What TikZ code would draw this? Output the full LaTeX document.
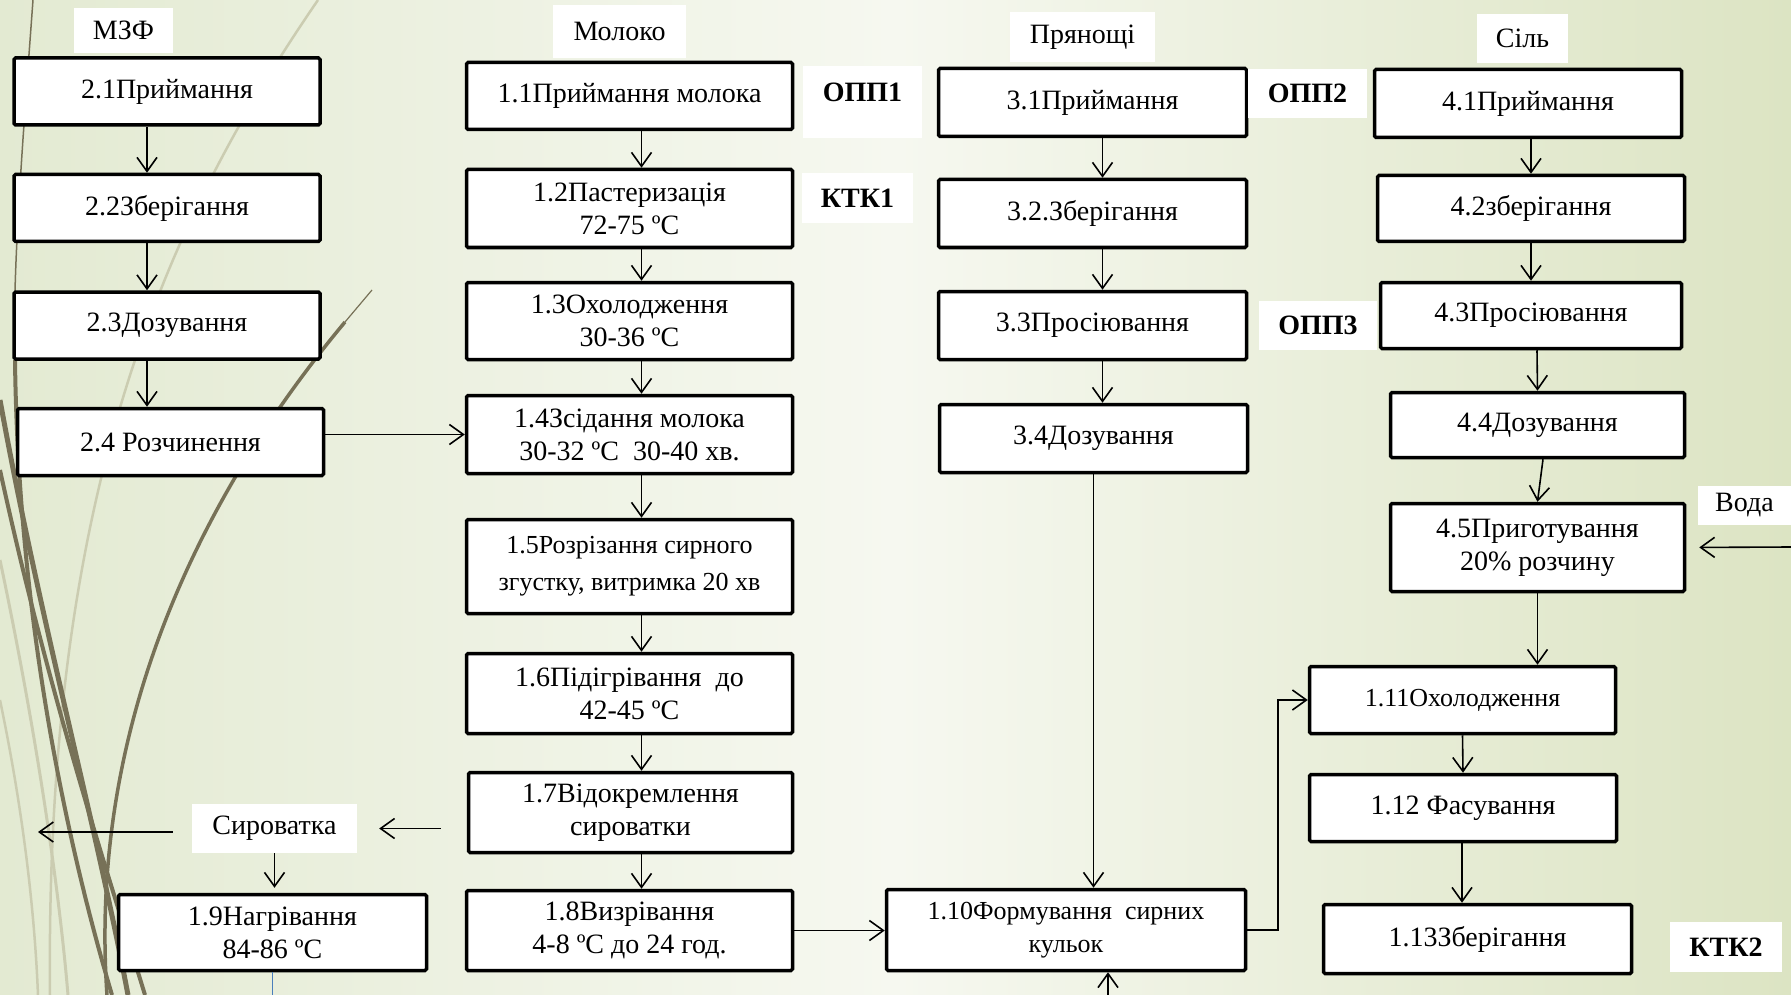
\documentclass[tikz,border=0pt]{standalone}
\usepackage{fontspec}
\setmainfont{Liberation Serif}
\usetikzlibrary{arrows.meta}

\definecolor{wispdark}{HTML}{777157}
\definecolor{wisplight}{HTML}{CBCCB1}
\definecolor{bgleft}{HTML}{E3EAD2}
\definecolor{bgmid}{HTML}{F6F8F0}
\definecolor{bgright}{HTML}{DCE4C3}
\definecolor{drainblue}{HTML}{4A7EBB}

\begin{document}
\begin{tikzpicture}[x=1pt,y=-1pt,
    stage/.style={draw,line width=3.5pt,rounded corners=1.5pt,fill=white,minimum width=306pt,minimum height=67pt,align=center,inner sep=2pt,font=\fontsize{28}{33}\selectfont},
    tag/.style={fill=white,inner sep=0pt,align=center,font=\fontsize{28}{33}\selectfont},
    point/.style={tag,font=\bfseries\fontsize{28}{33}\selectfont},
    flow/.style={-{Straight Barb[length=14pt,width=20pt]},line width=1.6pt}]

    \useasboundingbox (0,0) rectangle (1791,995);
    \shade[left color=bgleft,right color=bgright,middle color=bgmid] (0,0) rectangle (1791,995);

    \draw[wisplight,line width=2.5pt] (318,0) .. controls (160,230) and (45,500) .. (50,995);
    \draw[wisplight,line width=3pt] (0,560) .. controls (40,750) and (60,900) .. (68,995);
    \draw[wisplight,line width=2.5pt] (0,700) .. controls (25,820) and (35,920) .. (38,995);
    \draw[wispdark,line width=1.5pt] (33,0) .. controls (22,150) and (12,280) .. (15,360);
    \draw[wispdark,line width=4pt] (15,360) .. controls (18,600) and (60,820) .. (112,995);
    \draw[wispdark,line width=5pt] (0,400) .. controls (40,620) and (95,820) .. (128,995);
    \draw[wispdark,line width=4pt] (0,470) .. controls (50,700) and (110,880) .. (145,995);
    \draw[wispdark,line width=1.2pt] (372,290) -- (345,322);
    \draw[wispdark,line width=3.5pt] (345,322) .. controls (180,520) and (90,750) .. (107,995);

    \node[tag,minimum width=99pt,minimum height=45pt] (mzf) at (123.5,30.5) {МЗФ};
    \node[stage] (p21) at (167,91.5) {2.1Приймання};
    \node[stage] (p22) at (167,208) {2.2Зберігання};
    \node[stage] (p23) at (167,325.5) {2.3Дозування};
    \node[stage] (p24) at (170.5,442) {2.4 Розчинення};

    \node[tag,minimum width=133pt,minimum height=53pt] (milk) at (619.5,31.5) {Молоко};
    \node[stage,minimum width=326pt] (p11) at (629.5,96) {1.1Приймання молока};
    \node[stage,minimum width=326pt,minimum height=78pt] (p12) at (629.5,208.5) {1.2Пастеризація\\72-75 ºC};
    \node[stage,minimum width=326pt,minimum height=77pt] (p13) at (629.5,321) {1.3Охолодження\\30-36 ºC};
    \node[stage,minimum width=326pt,minimum height=78pt] (p14) at (629.5,434.5) {1.4Зсідання молока\\30-32 ºC\ \ 30-40 хв.};
    \node[stage,minimum width=326pt,minimum height=94pt,font=\fontsize{26}{37}\selectfont] (p15) at (629.5,566.5) {1.5Розрізання сирного\\згустку, витримка 20 хв};
    \node[stage,minimum width=326pt,minimum height=80pt] (p16) at (629.5,693.5) {1.6Підігрівання\ \ до\\42-45 ºC};
    \node[stage,minimum width=324pt,minimum height=80pt] (p17) at (630.5,812.5) {1.7Відокремлення\\сироватки};
    \node[stage,minimum width=326pt,minimum height=80pt] (p18) at (629.5,930.5) {1.8Визрівання\\4-8 ºC до 24 год.};

    \node[point,minimum width=119pt,minimum height=72pt,text depth=20pt] (opp1) at (862.5,102) {ОПП1};
    \node[point,minimum width=111pt,minimum height=50pt] (ktk1) at (857.5,198) {КТК1};

    \node[tag,minimum width=165pt,minimum height=49pt] (whey) at (274.5,828.5) {Сироватка};
    \node[stage,minimum width=308pt,minimum height=76pt] (p19) at (272.5,932.5) {1.9Нагрівання\\84-86 ºC};

    \node[tag,minimum width=145pt,minimum height=50pt] (spice) at (1082.5,37) {Прянощі};
    \node[stage,minimum width=308pt,minimum height=68pt] (p31) at (1092.5,102.5) {3.1Приймання};
    \node[stage,minimum width=308pt,minimum height=68pt] (p32) at (1092.5,213.5) {3.2.Зберігання};
    \node[stage,minimum width=308pt,minimum height=68pt] (p33) at (1092.5,325.5) {3.3Просіювання};
    \node[stage,minimum width=308pt,minimum height=68pt] (p34) at (1093.5,438.5) {3.4Дозування};
    \node[stage,minimum width=359pt,minimum height=81pt,font=\fontsize{26}{33}\selectfont] (p110) at (1066,930) {1.10Формування\ \ сирних\\кульок};

    \node[point,minimum width=119pt,minimum height=49pt] (opp2) at (1307.5,93.5) {ОПП2};
    \node[point,minimum width=118pt,minimum height=49pt] (opp3) at (1318,325.5) {ОПП3};

    \node[tag,minimum width=91pt,minimum height=49pt] (salt) at (1522.5,38.5) {Сіль};
    \node[stage,minimum width=307pt,minimum height=68pt] (p41) at (1528,103.5) {4.1Приймання};
    \node[stage,minimum width=307pt,minimum height=66pt] (p42) at (1531,208.5) {4.2зберігання};
    \node[stage,minimum width=301pt,minimum height=66pt] (p43) at (1531,315.5) {4.3Просіювання};
    \node[stage,minimum width=294pt,minimum height=65pt] (p44) at (1537.5,425) {4.4Дозування};
    \node[stage,minimum width=294pt,minimum height=88pt] (p45) at (1537.5,547.5) {4.5Приготування\\20\% розчину};
    \node[tag,minimum width=93pt,minimum height=39pt] (water) at (1744.5,505.5) {Вода};

    \node[stage,minimum width=306pt,minimum height=67pt,font=\fontsize{26}{33}\selectfont] (p111) at (1462.5,700) {1.11Охолодження};
    \node[stage,minimum width=307pt,minimum height=67pt] (p112) at (1463,808) {1.12 Фасування};
    \node[stage,minimum width=308pt,minimum height=69pt] (p113) at (1477.5,939) {1.13Зберігання};
    \node[point,minimum width=112pt,minimum height=50pt] (ktk2) at (1726,947) {КТК2};

    \draw[flow] ([xshift=-20pt]p21.south) -- ([xshift=-20pt]p22.north);
    \draw[flow] ([xshift=-20pt]p22.south) -- ([xshift=-20pt]p23.north);
    \draw[flow] ([xshift=-20pt]p23.south) -- ([xshift=-23.5pt]p24.north);
    \draw[flow] (p24.east |- p14.west) -- (p14.west);

    \draw[flow] ([xshift=12pt]p11.south) -- ([xshift=12pt]p12.north);
    \draw[flow] ([xshift=12pt]p12.south) -- ([xshift=12pt]p13.north);
    \draw[flow] ([xshift=12pt]p13.south) -- ([xshift=12pt]p14.north);
    \draw[flow] ([xshift=12pt]p14.south) -- ([xshift=12pt]p15.north);
    \draw[flow] ([xshift=12pt]p15.south) -- ([xshift=12pt]p16.north);
    \draw[flow] ([xshift=12pt]p16.south) -- ([xshift=11pt]p17.north);
    \draw[flow] ([xshift=11pt]p17.south) -- ([xshift=12pt]p18.north);

    \coordinate (wheyout) at (38,832);
    \draw[flow,shorten <=26pt,shorten >=22pt] (p17.west |- whey.east) -- (whey.east);
    \draw[flow,shorten <=19pt] (whey.west |- wheyout) -- (wheyout);
    \draw[flow,shorten >=5pt] (whey.south) -- (whey.south |- p19.north);
    \coordinate (drain) at (272.5,995);
    \draw[drainblue,line width=1.5pt] (p19.south) -- (drain);

    \draw[flow] ([xshift=10pt]p31.south) -- ([xshift=10pt]p32.north);
    \draw[flow] ([xshift=10pt]p32.south) -- ([xshift=10pt]p33.north);
    \draw[flow] ([xshift=10pt]p33.south) -- ([xshift=9pt]p34.north);
    \draw[flow] (p34.south) -- (p34.south |- p110.north);
    \draw[flow] (p18.east) -- (p18.east -| p110.west);
    \coordinate (curdin) at (1108,995);
    \draw[flow] (curdin) -- (curdin |- p110.south);
    \draw[flow] (p110.east) -- ++(31,0) |- (p111.west);

    \draw[flow] ([xshift=3pt]p41.south) -- (p42.north);
    \draw[flow] (p42.south) -- (p43.north);
    \draw[flow] ([xshift=6pt]p43.south) -- (p44.north);
    \draw[flow] ([xshift=5.5pt]p44.south) -- (p45.north);
    \coordinate (waterin) at (1791,547);
    \draw[flow,shorten >=13pt] (waterin) -- (p45.east);
    \draw[flow] (p45.south) -- (p45.south |- p111.north);

    \draw[flow] (p111.south) -- (p112.north);
    \draw[flow] ([xshift=-1pt]p112.south) -- ([xshift=-1pt]p112.south |- p113.north);
\end{tikzpicture}
\end{document}
